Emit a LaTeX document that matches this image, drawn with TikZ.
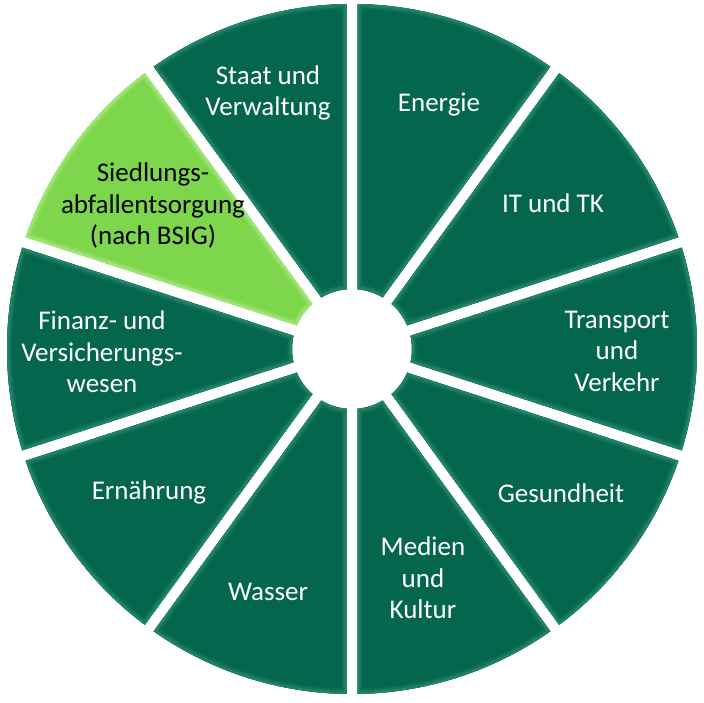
\documentclass[tikz,border=0pt]{standalone}
\usepackage{fontspec}
\setmainfont{Carlito}
\definecolor{dkgreen}{HTML}{05664E}
\definecolor{dkedge}{HTML}{2A8E70}
\definecolor{ltgreen}{HTML}{7DD64C}
\definecolor{ltedge}{HTML}{ADE985}
\tikzset{
  lbl/.style={text=white, align=center, inner sep=0pt, font=\fontsize{27}{31.5}\selectfont},
  lbldark/.style={lbl, text=black}
}
\begin{document}
\begin{tikzpicture}[x=1pt,y=1pt]
\useasboundingbox (0,0) rectangle (704,702);
\fill[white] (0,0) rectangle (704,702);
\begin{scope}[shift={(352,353)}, line join=round]
\foreach \a/\c/\e in {90/dkgreen/dkedge,126/ltgreen/ltedge,162/dkgreen/dkedge,198/dkgreen/dkedge,234/dkgreen/dkedge,270/dkgreen/dkedge,306/dkgreen/dkedge,342/dkgreen/dkedge,18/dkgreen/dkedge,54/dkgreen/dkedge}{
  \begin{scope}
    \clip ({\a+0.913}:345) arc[start angle={\a+0.913}, end angle={\a+36-0.913}, radius=345] -- ({\a+36-5.26}:60) arc[start angle={\a+36-5.26}, end angle={\a+5.26}, radius=60] -- cycle;
    \fill[\c] (-400,-400) rectangle (400,400);
    \draw[\e!20!\c, line width=10] ({\a+0.913}:345) arc[start angle={\a+0.913}, end angle={\a+36-0.913}, radius=345] -- ({\a+36-5.26}:60) arc[start angle={\a+36-5.26}, end angle={\a+5.26}, radius=60] -- cycle;
    \draw[\e!45!\c, line width=7] ({\a+0.913}:345) arc[start angle={\a+0.913}, end angle={\a+36-0.913}, radius=345] -- ({\a+36-5.26}:60) arc[start angle={\a+36-5.26}, end angle={\a+5.26}, radius=60] -- cycle;
    \draw[\e!75!\c, line width=4] ({\a+0.913}:345) arc[start angle={\a+0.913}, end angle={\a+36-0.913}, radius=345] -- ({\a+36-5.26}:60) arc[start angle={\a+36-5.26}, end angle={\a+5.26}, radius=60] -- cycle;
  \end{scope}
}
\end{scope}
\node[lbl] (staat) at (268,609) {Staat und\\Verwaltung};
\node[lbl] (energie) at (439,597) {Energie};
\node[lbl] (it) at (553,499) {IT und TK};
\node[lbl] (transport) at (617,351) {Transport\\und\\Verkehr};
\node[lbl] (gesund) at (561,209) {Gesundheit};
\node[lbl] (medien) at (423,124) {Medien\\und\\Kultur};
\node[lbl] (wasser) at (268,110) {Wasser};
\node[lbl] (ernaehrung) at (149,210) {Ernährung};
\node[lbl] (finanz) at (102,350) {Finanz- und\\Versicherungs-\\wesen};
\node[lbldark] (siedlung) at (153,496) {Siedlungs-\\abfallentsorgung\\(nach BSIG)};
\end{tikzpicture}
\end{document}
